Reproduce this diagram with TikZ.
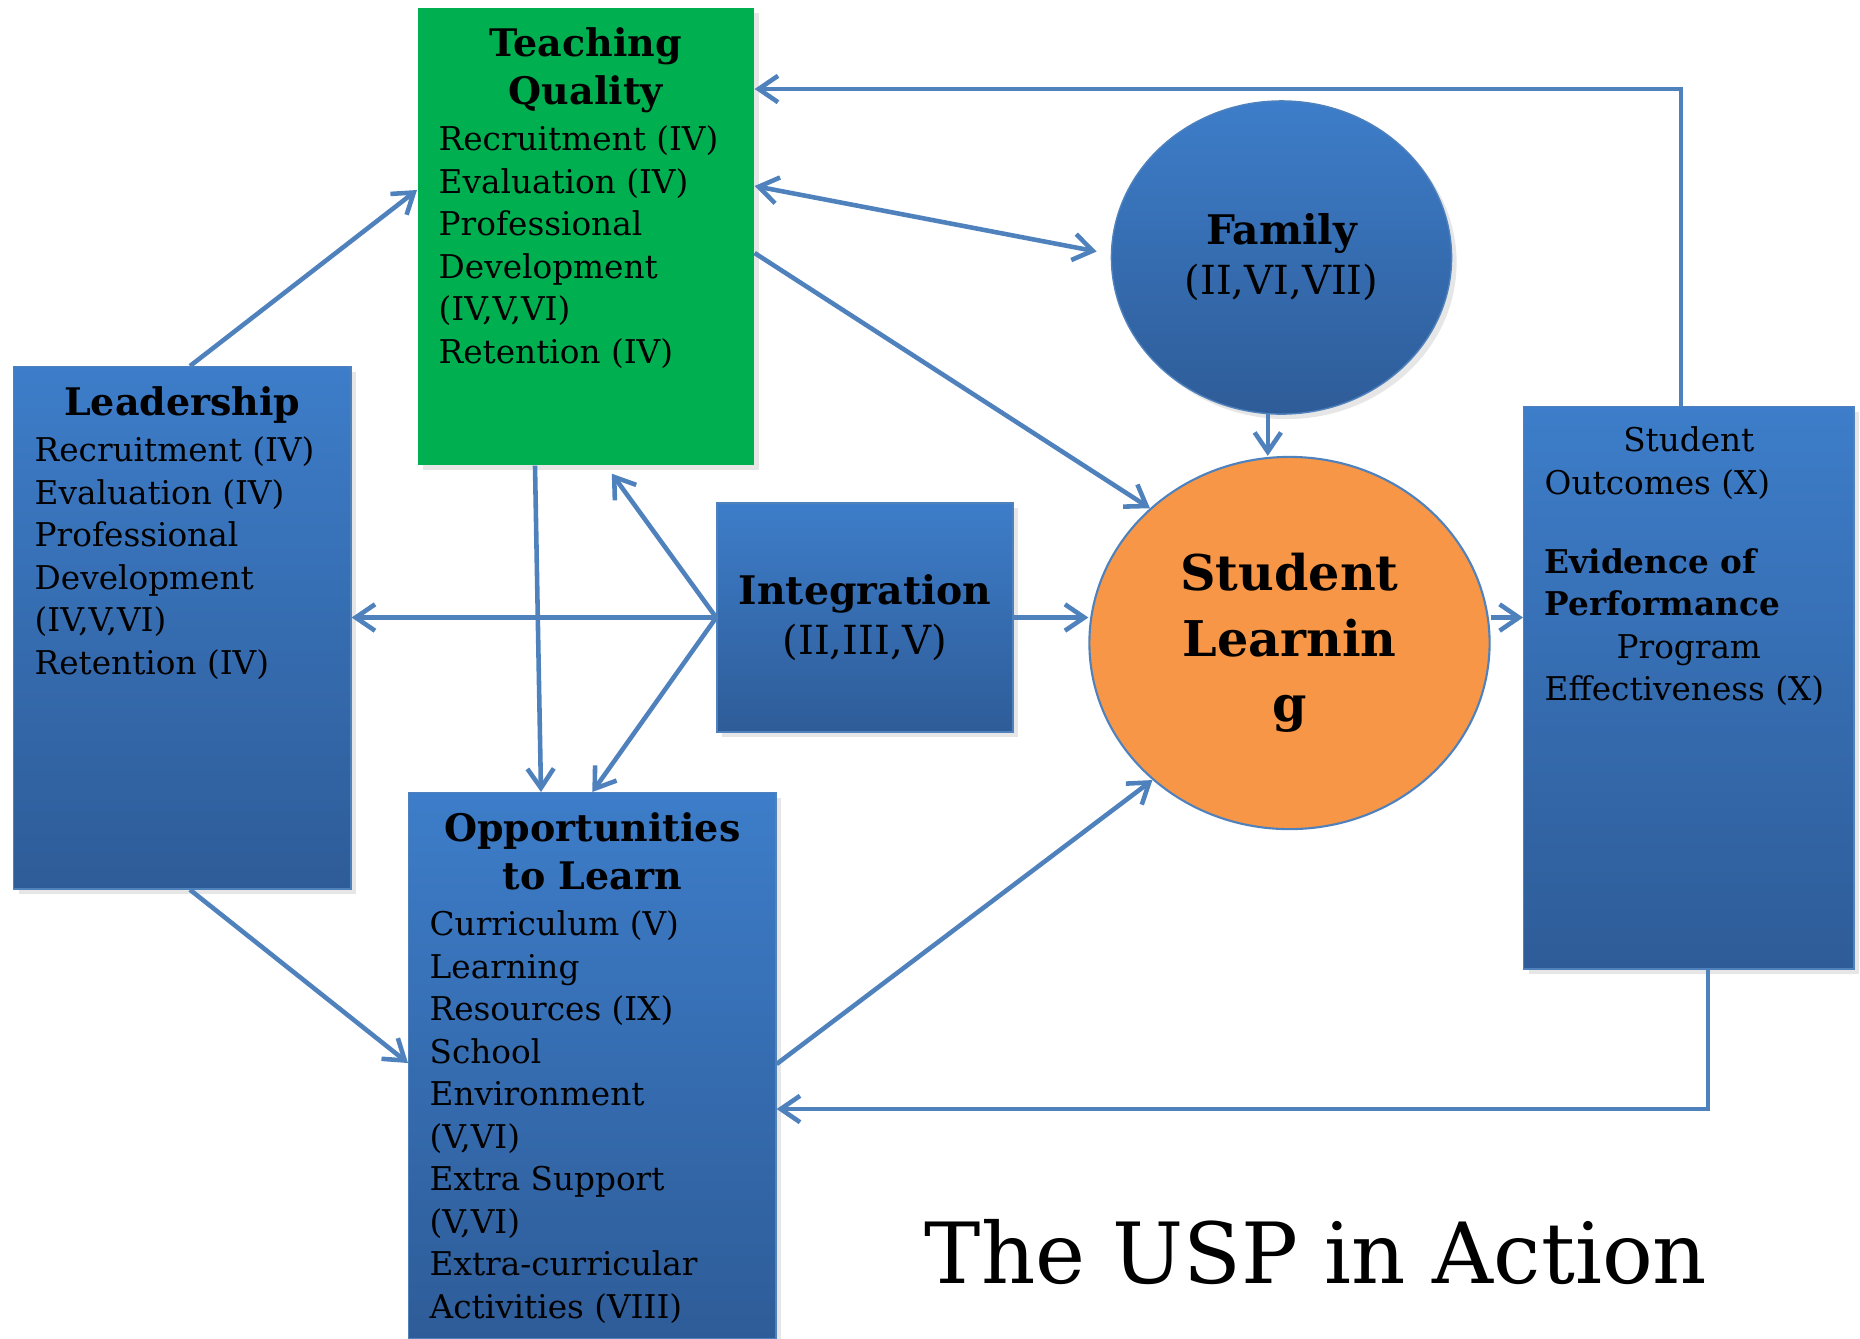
\documentclass[tikz,border=0pt]{standalone}
\usepackage{fontspec}
\setmainfont{DejaVu Serif}
\usetikzlibrary{positioning, arrows.meta, shadows, shapes.geometric}

\definecolor{linkblue}{RGB}{79,129,189}
\definecolor{boxtop}{RGB}{61,125,201}
\definecolor{boxbottom}{RGB}{46,92,152}
\definecolor{tqgreen}{RGB}{0,176,80}
\definecolor{slorange}{RGB}{247,150,70}

\newcommand{\hd}[1]{{\centering\bfseries\fontsize{10.8}{13.6}\selectfont #1\par}\vspace{1pt}}
\newcommand{\bodyfont}{\fontsize{9.3}{12.1}\selectfont}

\begin{document}
\begin{tikzpicture}[
        x=0.01cm, y=-0.01cm,
        >={Straight Barb[length=5.5pt,width=7.5pt]},
        link/.style={draw=linkblue, line width=1.3pt},
        bluebox/.style={rectangle, draw=linkblue, line width=0.4pt, top color=boxtop, bottom color=boxbottom,
            drop shadow={opacity=0.2, shadow xshift=0.05cm, shadow yshift=-0.05cm}},
        txtbox/.style={anchor=north west, inner xsep=0.21cm, inner ysep=0.2cm}]

    \useasboundingbox (0,0) rectangle (1860,1338);

    % boxes
    \node[txtbox, fill=tqgreen, drop shadow={opacity=0.2, shadow xshift=0.05cm, shadow yshift=-0.05cm}] (tq) at (417,7)
        {\parbox[t][4.17cm][t]{2.94cm}{\raggedright\bodyfont
        \hd{Teaching\\Quality}
        Recruitment (IV)\\
        Evaluation (IV)\\
        Professional\\
        Development\\
        (IV,V,VI)\\
        Retention (IV)}};
    \node[bluebox, txtbox] (lead) at (13,366)
        {\parbox[t][4.82cm][t]{2.95cm}{\raggedright\bodyfont
        \hd{Leadership}
        Recruitment (IV)\\
        Evaluation (IV)\\
        Professional\\
        Development\\
        (IV,V,VI)\\
        Retention (IV)}};
    \node[bluebox, txtbox] (opp) at (408,792)
        {\parbox[t][5.06cm][t]{3.25cm}{\raggedright\bodyfont
        \hd{Opportunities\\to Learn}
        Curriculum (V)\\
        Learning\\
        Resources (IX)\\
        School\\
        Environment\\
        (V,VI)\\
        Extra Support\\
        (V,VI)\\
        Extra-curricular\\
        Activities (VIII)}};
    \node[bluebox, txtbox] (so) at (1523,406)
        {\parbox[t][5.22cm][t]{2.88cm}{\raggedright\bodyfont
        {\centering Student\par}
        Outcomes (X)\par
        \vspace{10.4pt}
        {\bfseries Evidence of\\Performance\par}
        {\centering Program\par}
        Effectiveness (X)}};
    \node[bluebox, minimum width=2.96cm, minimum height=2.29cm, align=center,
        font=\fontsize{11.4}{14.4}\selectfont] (int) at (865,617.5)
        {{\bfseries\fontsize{11.2}{14.4}\selectfont Integration}\\(II,III,V)};

    % ellipses
    \node[bluebox, ellipse, minimum width=3.4cm, minimum height=3.13cm, align=center,
        font=\fontsize{11.4}{14.2}\selectfont] (fam) at (1281.5,257.5)
        {{\bfseries\fontsize{11.6}{14.2}\selectfont Family}\\(II,VI,VII)};
    \node[ellipse, draw=linkblue, line width=0.6pt, fill=slorange, minimum width=4cm, minimum height=3.72cm,
        align=center, font=\bfseries\fontsize{14}{18.6}\selectfont] (sl) at (1289.5,643)
        {Student\\Learnin\\g};

    \node[anchor=base, font=\fontsize{24}{28}\selectfont] (title) at (1316,1283) {The USP in Action};

    % connectors
    \draw[link, ->] (lead.north -| 190,0) -- (tq.west |- 0,190);
    \draw[link, ->] (lead.south -| 190,0) -- (opp.west |- 0,1063);
    \draw[link, ->] (int.west) -- (lead.east |- int.west);
    \draw[link, ->] (int.west) -- ([shift={(26,8)}]tq.south);
    \draw[link, ->] (int.west) -- (opp.north);
    \draw[link, ->] (tq.south -| 535,0) -- (opp.north -| 541,0);
    \draw[link, ->] (int.east) -- (sl.west |- int.east);
    \draw[link, <->] (tq.east |- 0,186) -- ([shift={(-14,-6)}]fam.west);
    \draw[link, ->] (tq.east |- 0,253) -- (sl.136);
    \draw[link, ->] (fam.265) -- (fam.265 |- sl.north);
    \draw[link, ->] (opp.east |- 0,1064) -- (sl.225);
    \draw[link, ->] (sl.east |- int.east) -- (so.west |- int.east);
    \draw[link, ->] (so.north -| 1681,0) |- (tq.east |- 0,89);
    \draw[link, ->] (so.south -| 1708,0) |- (opp.east |- 0,1109);

\end{tikzpicture}
\end{document}
